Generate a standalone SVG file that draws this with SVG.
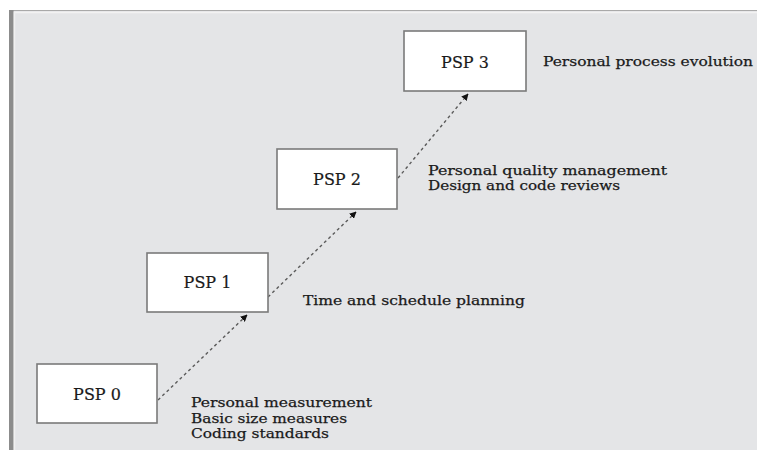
<svg xmlns="http://www.w3.org/2000/svg" width="757" height="450" viewBox="0 0 757 450">
  <style>
    .box { fill: #ffffff; stroke: #7a7a7a; stroke-width: 1.6; }
    .lbl { font-family: "DejaVu Serif", "Liberation Serif", serif; font-size: 13px; fill: #1a1a1a; stroke: #1a1a1a; stroke-width: 0.25; }
    .name { text-anchor: middle; font-size: 16px; stroke-width: 0.2; }
    .link { fill: none; stroke: #5a5a5a; stroke-width: 1.4; stroke-dasharray: 3 3; marker-end: url(#tip); }
  </style>
  <defs>
    <marker id="tip" viewBox="0 0 10 10" refX="9" refY="5" markerWidth="7" markerHeight="7" orient="auto" markerUnits="userSpaceOnUse">
      <path d="M0,0 L10,5 L0,10 z" fill="#111"/>
    </marker>
  </defs>

  <!-- page and panel -->
  <rect x="0" y="0" width="757" height="450" fill="#ffffff"/>
  <rect x="9" y="10" width="748" height="440" fill="#e4e5e7"/>
  <line x1="9" y1="10.5" x2="757" y2="10.5" stroke="#a9a9a9" stroke-width="1"/>
  <line x1="14" y1="12.5" x2="757" y2="12.5" stroke="#f2f2f2" stroke-width="1.5"/>
  <rect x="9" y="10" width="4.5" height="440" fill="#8c8c8c"/>
  <line x1="14.5" y1="12" x2="14.5" y2="450" stroke="#f0f0f0" stroke-width="1.5"/>

  <!-- connectors -->
  <g id="connectors">
    <line class="link" x1="158" y1="400" x2="247" y2="315"/>
    <line class="link" x1="268" y1="297" x2="356" y2="212"/>
    <line class="link" x1="398" y1="178" x2="468" y2="94"/>
  </g>

  <!-- levels -->
  <g id="psp0">
    <rect class="box" x="37" y="364" width="120" height="59"/>
    <text class="lbl name" x="97" y="400">PSP 0</text>
    <text class="lbl" x="191" y="407" textLength="181" lengthAdjust="spacingAndGlyphs">Personal measurement</text>
    <text class="lbl" x="191" y="422.5" textLength="156" lengthAdjust="spacingAndGlyphs">Basic size measures</text>
    <text class="lbl" x="191" y="438" textLength="138" lengthAdjust="spacingAndGlyphs">Coding standards</text>
  </g>
  <g id="psp1">
    <rect class="box" x="147" y="253" width="121" height="59"/>
    <text class="lbl name" x="207.5" y="288">PSP 1</text>
    <text class="lbl" x="303" y="305" textLength="222" lengthAdjust="spacingAndGlyphs">Time and schedule planning</text>
  </g>
  <g id="psp2">
    <rect class="box" x="277" y="149" width="120" height="60"/>
    <text class="lbl name" x="337" y="185">PSP 2</text>
    <text class="lbl" x="428" y="174.5" textLength="239" lengthAdjust="spacingAndGlyphs">Personal quality management</text>
    <text class="lbl" x="428" y="189.5" textLength="192" lengthAdjust="spacingAndGlyphs">Design and code reviews</text>
  </g>
  <g id="psp3">
    <rect class="box" x="404" y="31" width="122" height="60"/>
    <text class="lbl name" x="465" y="68">PSP 3</text>
    <text class="lbl" x="543" y="66" textLength="210" lengthAdjust="spacingAndGlyphs">Personal process evolution</text>
  </g>
</svg>
